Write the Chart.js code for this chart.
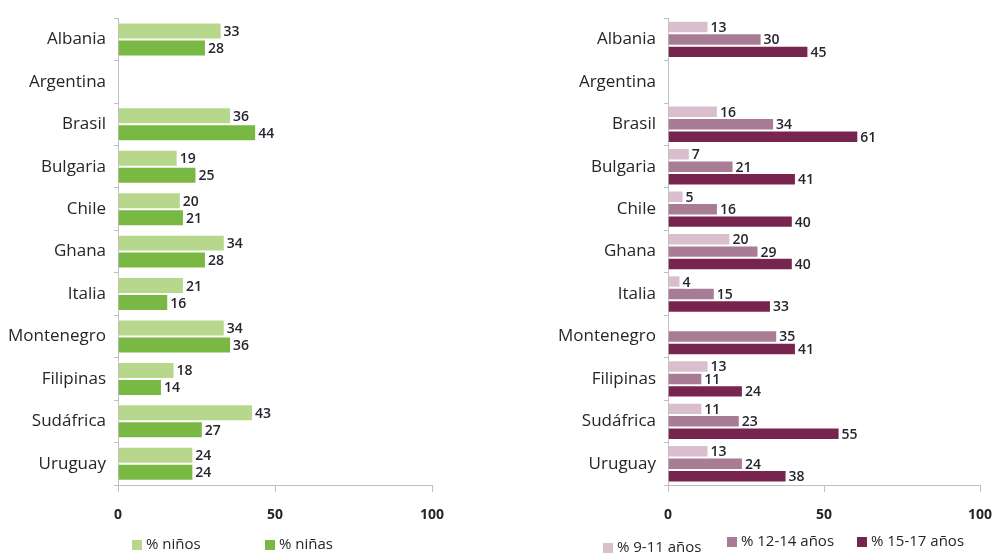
<!DOCTYPE html>
<html>
<head>
<meta charset="utf-8">
<script src="https://cdn.jsdelivr.net/npm/chart.js@4"></script>
<style>
  html, body { margin: 0; padding: 0; background: #fff; }
  #wrap { position: relative; width: 998px; height: 554px; overflow: hidden; font-family: 'Open Sans', 'Liberation Sans', sans-serif; }
  .box { position: absolute; top: 0; height: 554px; }
  #leftBox { left: 0; width: 460px; }
  #rightBox { left: 550px; width: 458px; }
  .leg { position: absolute; font-size: 15px; color: #262626; white-space: nowrap; line-height: 18px; }
  .leg i { display: inline-block; width: 10px; height: 10px; margin-right: 4px; vertical-align: -1px; }
</style>
</head>
<body>
<div id="wrap">
  <div class="box" id="leftBox"><canvas id="leftChart"></canvas></div>
  <div class="box" id="rightBox"><canvas id="rightChart"></canvas></div>
  <div id="legends"></div>
</div>
<script>
// data
const paises = ["Albania", "Argentina", "Brasil", "Bulgaria", "Chile", "Ghana", "Italia", "Montenegro", "Filipinas", "Sudáfrica", "Uruguay"];
const xTicks = [0, 50, 100];

const ninos = [33, null, 36, 19, 20, 34, 21, 34, 18, 43, 24];
const ninas = [28, null, 44, 25, 21, 28, 16, 36, 14, 27, 24];

const edad9a11 = [13, null, 16, 7, 5, 20, 4, null, 13, 11, 13];
const edad12a14 = [30, null, 34, 21, 16, 29, 15, 35, 11, 23, 24];
const edad15a17 = [45, null, 61, 41, 40, 40, 33, 41, 24, 55, 38];

const FONT = "'Open Sans', 'Liberation Sans', sans-serif";

// label angka di ujung bar
const valueLabels = {
  id: "valueLabels",
  afterDatasetsDraw(chart) {
    const ctx = chart.ctx;
    ctx.save();
    ctx.font = "600 14px " + FONT;
    ctx.textBaseline = "middle";
    ctx.textAlign = "left";
    chart.data.datasets.forEach((ds, i) => {
      chart.getDatasetMeta(i).data.forEach((bar, j) => {
        const v = ds.data[j];
        if (v === null || v === undefined) return;
        const x = bar.x + 2;
        const y = bar.y + 1;
        ctx.lineWidth = 3;
        ctx.strokeStyle = "#fff";
        ctx.strokeText(v, x, y);
        ctx.fillStyle = "#262630";
        ctx.fillText(v, x, y);
      });
    });
    ctx.restore();
  }
};

function makeChart(canvasId, datasets, yWidth, padRight, catPct) {
  const ctx = document.getElementById(canvasId).getContext("2d");
  return new Chart(ctx, {
    type: "bar",
    data: { labels: paises, datasets: datasets },
    options: {
      indexAxis: "y",
      responsive: true,
      maintainAspectRatio: false,
      animation: false,
      layout: { padding: { top: 17, right: padRight, bottom: 23, left: 0 } },
      datasets: {
        bar: { categoryPercentage: catPct, barPercentage: 1, borderColor: "#ffffff", borderWidth: 1 }
      },
      plugins: {
        legend: { display: false },
        tooltip: { enabled: false }
      },
      scales: {
        x: {
          min: 0,
          max: 100,
          afterBuildTicks: (scale) => { scale.ticks = xTicks.map(v => ({ value: v })); },
          afterFit: (scale) => { scale.height = 46; },
          border: { color: "#bfbfbf" },
          grid: { drawOnChartArea: false, drawTicks: true, tickLength: 7, color: "#bfbfbf" },
          ticks: { padding: 15, color: "#262626", font: { family: FONT, size: 14, weight: "bold" } }
        },
        y: {
          afterFit: (scale) => { scale.width = yWidth; },
          border: { color: "#bfbfbf" },
          grid: { offset: true, drawOnChartArea: false, drawTicks: true, tickLength: 4, color: "#bfbfbf" },
          ticks: { padding: 8, color: "#262626", font: { family: FONT, size: 17 } }
        }
      }
    },
    plugins: [valueLabels]
  });
}

const kiri = makeChart("leftChart", [
  { label: "% niños", data: ninos, backgroundColor: "#b6d78c" },
  { label: "% niñas", data: ninas, backgroundColor: "#78b843" }
], 118, 28, 0.8);

const kanan = makeChart("rightChart", [
  { label: "% 9-11 años", data: edad9a11, backgroundColor: "#d9bfcd" },
  { label: "% 12-14 años", data: edad12a14, backgroundColor: "#a97c95" },
  { label: "% 15-17 años", data: edad15a17, backgroundColor: "#77244f" }
], 118, 28, 0.88);

// legenda HTML
const legendPos = [
  [kiri, 0, 132, 534], [kiri, 1, 265, 534],
  [kanan, 0, 603, 537], [kanan, 1, 727, 531], [kanan, 2, 857, 531]
];
const legEl = document.getElementById("legends");
legendPos.forEach(([chart, idx, left, top]) => {
  const ds = chart.data.datasets[idx];
  const d = document.createElement("div");
  d.className = "leg";
  d.style.left = left + "px";
  d.style.top = top + "px";
  d.innerHTML = '<i style="background:' + ds.backgroundColor + '"></i>' + ds.label;
  legEl.appendChild(d);
});
</script>
</body>
</html>
